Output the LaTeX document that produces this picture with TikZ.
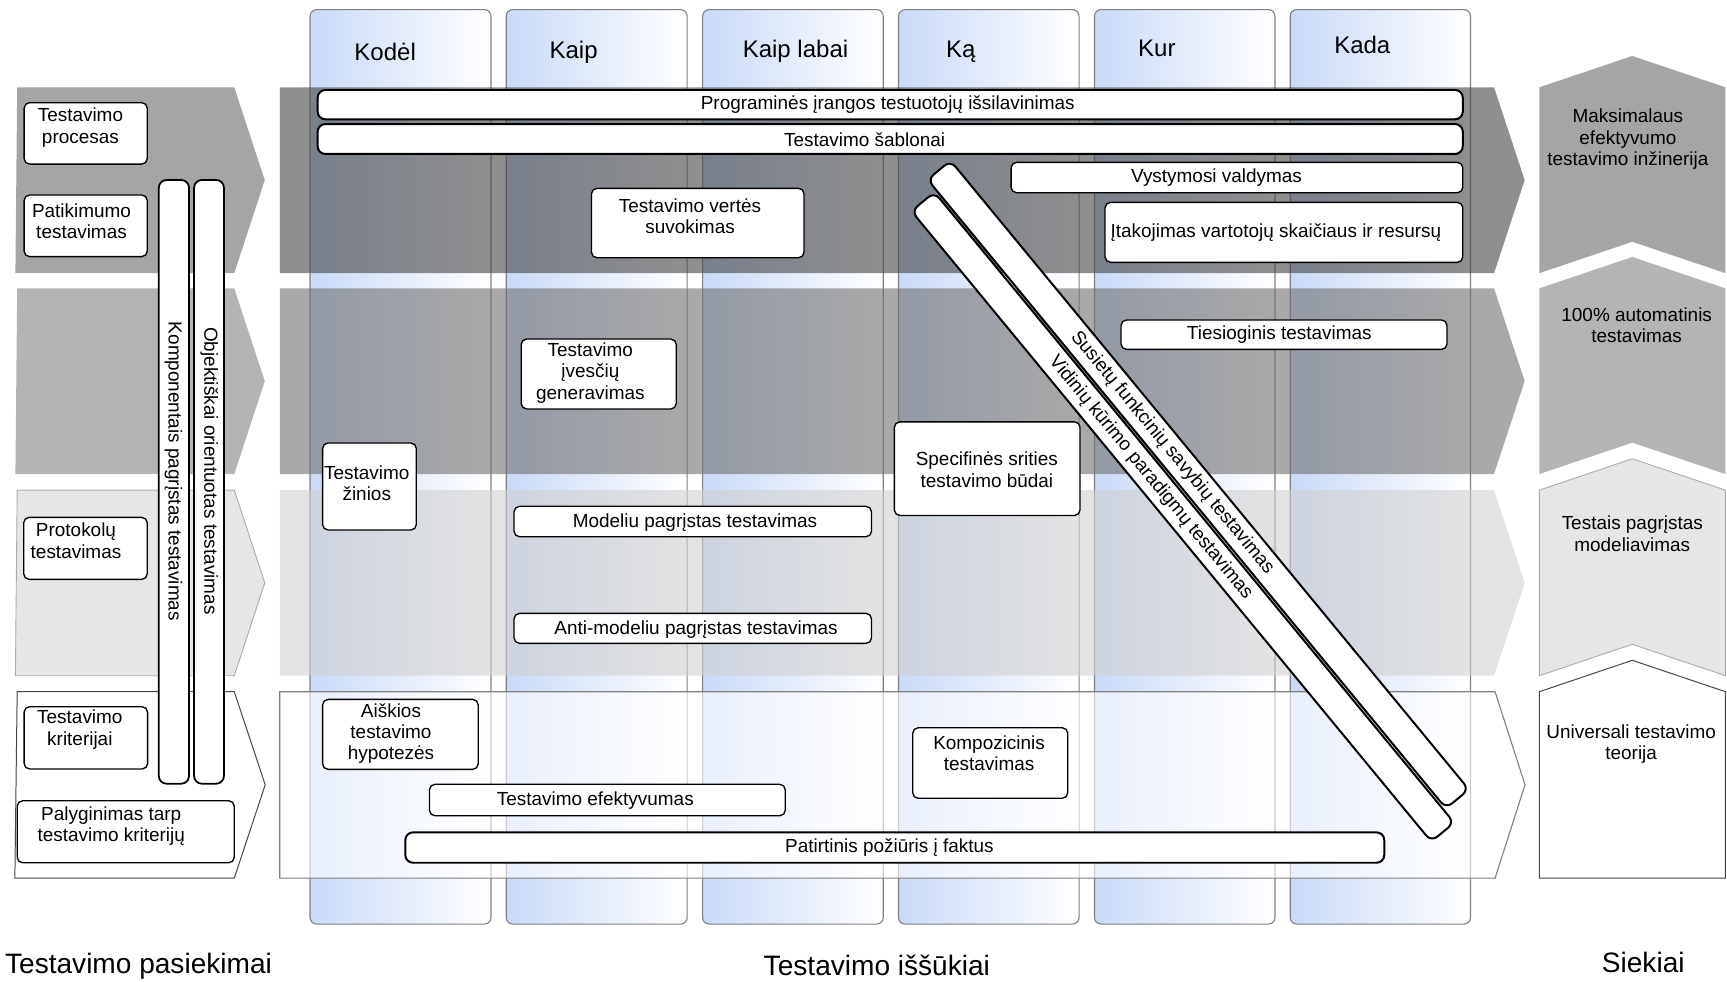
\documentclass[tikz,border=0pt]{standalone}
\usepackage{fontspec}
\setmainfont{Liberation Sans}
\usetikzlibrary{fit}

\definecolor{colblue}{RGB}{201,218,248}
\definecolor{colborder}{RGB}{128,128,128}
\definecolor{bandA}{RGB}{68,68,68}
\definecolor{bandB}{RGB}{112,112,112}
\definecolor{bandC}{RGB}{208,208,208}
\definecolor{chevA}{RGB}{165,165,165}
\definecolor{chevB}{RGB}{180,180,180}
\definecolor{chevC}{RGB}{230,230,230}
\definecolor{chevCline}{RGB}{170,170,170}
\definecolor{chevDline}{RGB}{70,70,70}

\newcommand\lblfont{\fontsize{8.6}{9.75}\selectfont}
\newcommand\hdrfont{\fontsize{10.9}{13}\selectfont}
\newcommand\btmfont{\fontsize{12.75}{15}\selectfont}

\begin{document}
\begin{tikzpicture}[x=0.5pt,y=-0.5pt,
  colbox/.style={draw=colborder, line width=0.5pt, rounded corners=3pt,
    left color=colblue, right color=white, inner sep=0pt, outer sep=0pt},
  box/.style={draw=black, line width=0.6pt, fill=white, rounded corners=2.5pt,
    inner sep=0pt, outer sep=0pt},
  longbar/.style={box, line width=0.9pt, rounded corners=3.5pt},
  lbl/.style={font=\lblfont, align=center, inner sep=0pt},
  hdr/.style={font=\hdrfont, inner sep=0pt, anchor=base west},
  btm/.style={font=\btmfont, inner sep=0pt, anchor=base west},
  bandfill/.style={fill=#1, fill opacity=0.6, draw=none},
]
\useasboundingbox (0,0) rectangle (1568,891);

% question columns
\foreach \n/\xa/\xb in {kodel/281.5/445.8, kaip/459.6/623.9, labai/637.9/801.9,
    ka/815.8/979.7, kur/993.7/1157.6, kada/1171.4/1335.1}
  \node[colbox, fit={(\xa,8.7) (\xb,839)}] (\n) {};

\node[hdr] (h-kodel) at (321.4,55) {Kodėl};
\node[hdr] (h-kaip)  at (498.6,53) {Kaip};
\node[hdr] (h-labai) at (674,52)   {Kaip labai};
\node[hdr] (h-ka)    at (858.5,52) {Ką};
\node[hdr] (h-kur)   at (1033,51)  {Kur};
\node[hdr] (h-kada)  at (1211,49)  {Kada};

% central bands laid over the columns
\path[bandfill=bandA] (254,79.3) -- (1356.5,79.3) -- (1384.3,163.6) -- (1356.5,248) -- (254,248) -- cycle;
\path[bandfill=bandB] (254,261.8) -- (1356.5,261.8) -- (1384.3,346) -- (1356.5,430.4) -- (254,430.4) -- cycle;
\path[bandfill=bandC] (254,445) -- (1356.5,445) -- (1384.3,529.2) -- (1356.5,613.5) -- (254,613.5) -- cycle;
\path[fill=white, fill opacity=0.6, draw=colborder, line width=0.5pt]
  (254,628) -- (1357.4,628) -- (1384.6,712.5) -- (1357.4,797.3) -- (254,797.3) -- cycle;

% achievements (left)
\fill[chevA] (15.6,79.3) -- (212.7,79.3) -- (240.4,163.6) -- (212.7,248) -- (14,248) -- cycle;
\fill[chevB] (15.6,261.8) -- (212.7,261.8) -- (240.4,346) -- (212.7,430.4) -- (14,430.4) -- cycle;
\filldraw[fill=chevC, draw=chevCline, line width=0.4pt]
  (15.6,445) -- (212.7,445) -- (240.4,529.2) -- (212.7,613.5) -- (14,613.5) -- cycle;
\filldraw[fill=white, draw=chevDline, line width=0.45pt]
  (15.6,628) -- (212.7,628) -- (240.8,712.5) -- (212.7,797.3) -- (13.5,797.3) -- cycle;

% goals (right)
\fill[chevA] (1397.6,79.3) -- (1482,50.8) -- (1566.6,79.3) -- (1566.6,248) -- (1482,219.5) -- (1397.6,248) -- cycle;
\fill[chevB] (1397.6,261.8) -- (1482,233.3) -- (1566.6,261.8) -- (1566.6,430.4) -- (1482,401.9) -- (1397.6,430.4) -- cycle;
\filldraw[fill=chevC, draw=chevCline, line width=0.4pt]
  (1397.6,445) -- (1482,416.5) -- (1566.6,445) -- (1566.6,613.5) -- (1482,585) -- (1397.6,613.5) -- cycle;
\filldraw[fill=white, draw=chevDline, line width=0.45pt]
  (1397.6,628) -- (1482,599.5) -- (1566.6,628) -- (1566.6,797.3) -- (1397.6,797.3) -- cycle;

\node[lbl] (g-maks) at (1478,126.5) {Maksimalaus\\efektyvumo\\testavimo inžinerija};
\node[lbl] (g-auto) at (1486,295.5) {100\% automatinis\\testavimas};
\node[lbl] (g-model) at (1482,484.5) {Testais pagrįstas\\modeliavimas};
\node[lbl] (g-teor) at (1481,675.5) {Universali testavimo\\teorija};

% achievement boxes
\node[box, fit={(21.9,93.2) (133.7,149)}] (procesas) {};
\node[lbl] (procesas-t) at (73,116) {Testavimo\\procesas};
\node[box, fit={(21.9,177) (133.7,233)}] (patik) {};
\node[lbl] (patik-t) at (74,201) {Patikimumo\\testavimas};
\node[box, fit={(21.5,469.7) (133.7,526)}] (protok) {};
\node[lbl] (protok-t) at (69,491) {Protokolų\\testavimas};
\node[box, fit={(21.9,641.6) (134,698.2)}] (krit) {};
\node[lbl] (krit-t) at (72.5,662.5) {Testavimo\\kriterijai};
\node[box, fit={(15.6,727) (212.7,783.3)}] (palyg) {};
\node[lbl] (palyg-t) at (101,750) {Palyginimas tarp\\testavimo kriterijų};

\node[longbar, line width=0.8pt, fit={(144.2,163.4) (171.6,711.5)}] (kompon) {};
\node[lbl, rotate=-90] (kompon-t) at (157.5,428) {Komponentais pagrįstas testavimas};
\node[longbar, line width=0.8pt, fit={(176.2,163.4) (203.3,711.5)}] (objekt) {};
\node[lbl, rotate=-90] (objekt-t) at (190,427.5) {Objektiškai orientuotas testavimas};

% challenge boxes
\node[longbar, fit={(288.4,81.7) (1328.1,108.3)}] (prog) {};
\node[lbl] (prog-t) at (806,95) {Programinės įrangos testuotojų išsilavinimas};
\node[longbar, fit={(288.4,112.6) (1328.1,139.8)}] (sabl) {};
\node[lbl] (sabl-t) at (785,126.5) {Testavimo šablonai};
\node[box, fit={(918,147.4) (1328.1,175)}] (vyst) {};
\node[lbl] (vyst-t) at (1104.5,161) {Vystymosi valdymas};
\node[box, fit={(537,171) (730,234)}] (vert) {};
\node[lbl] (vert-t) at (626.5,196.5) {Testavimo vertės\\suvokimas};
\node[box, fit={(1003.3,183.7) (1328.1,238.2)}] (itak) {};
\node[lbl, anchor=west] (itak-t) at (1008,211.5) {Įtakojimas vartotojų skaičiaus ir resursų};
\node[box, fit={(1017.8,290.5) (1313.8,317.2)}] (ties) {};
\node[lbl] (ties-t) at (1161.5,304) {Tiesioginis testavimas};
\node[box, fit={(473.2,307.8) (614,371.3)}] (ives) {};
\node[lbl] (ives-t) at (536,338.5) {Testavimo\\įvesčių\\generavimas};
\node[box, fit={(292.9,402.2) (378,481.2)}] (zin) {};
\node[lbl] (zin-t) at (333,438.5) {Testavimo\\žinios};
\node[box, fit={(812,383) (980.6,468)}] (spec) {};
\node[lbl] (spec-t) at (896,426.5) {Specifinės srities\\testavimo būdai};
\node[box, fit={(466.7,459.7) (791.3,487.3)}] (model) {};
\node[lbl] (model-t) at (631,474.5) {Modeliu pagrįstas testavimas};
\node[box, fit={(466.7,556.9) (791.3,584.1)}] (anti) {};
\node[lbl] (anti-t) at (632,571.5) {Anti-modeliu pagrįstas testavimas};
\node[box, fit={(292.9,635) (434.2,698.5)}] (aisk) {};
\node[lbl] (aisk-t) at (355,666) {Aiškios\\testavimo\\hypotezės};
\node[box, fit={(828.7,660.7) (969.4,724.8)}] (komp) {};
\node[lbl] (komp-t) at (898,684) {Kompozicinis\\testavimas};
\node[box, fit={(389.9,712.1) (713,740.6)}] (efek) {};
\node[lbl] (efek-t) at (540.5,726.5) {Testavimo efektyvumas};
\node[longbar, fit={(368,755.7) (1256.8,783.3)}] (patir) {};
\node[lbl] (patir-t) at (807.5,769.5) {Patirtinis požiūris į faktus};

% diagonal bars
\node[longbar, rotate=-50.5, minimum width=370pt, minimum height=13.5pt] (susiet) at (1087.9,439.9) {};
\node[lbl, rotate=-50.5] (susiet-t) at (1064.4,411.3) {Susietų funkcinių savybių testavimas};
\node[longbar, rotate=-50.5, minimum width=371pt, minimum height=13.5pt] (vidin) at (1073.9,469.3) {};
\node[lbl, rotate=-50.5] (vidin-t) at (1044.7,433.8) {Vidinių kūrimo paradigmų testavimas};

% captions
\node[btm] (cap-pas) at (4.2,884) {Testavimo pasiekimai};
\node[btm] (cap-iss) at (693,886) {Testavimo iššūkiai};
\node[btm] (cap-sie) at (1454,883) {Siekiai};
\end{tikzpicture}
\end{document}
